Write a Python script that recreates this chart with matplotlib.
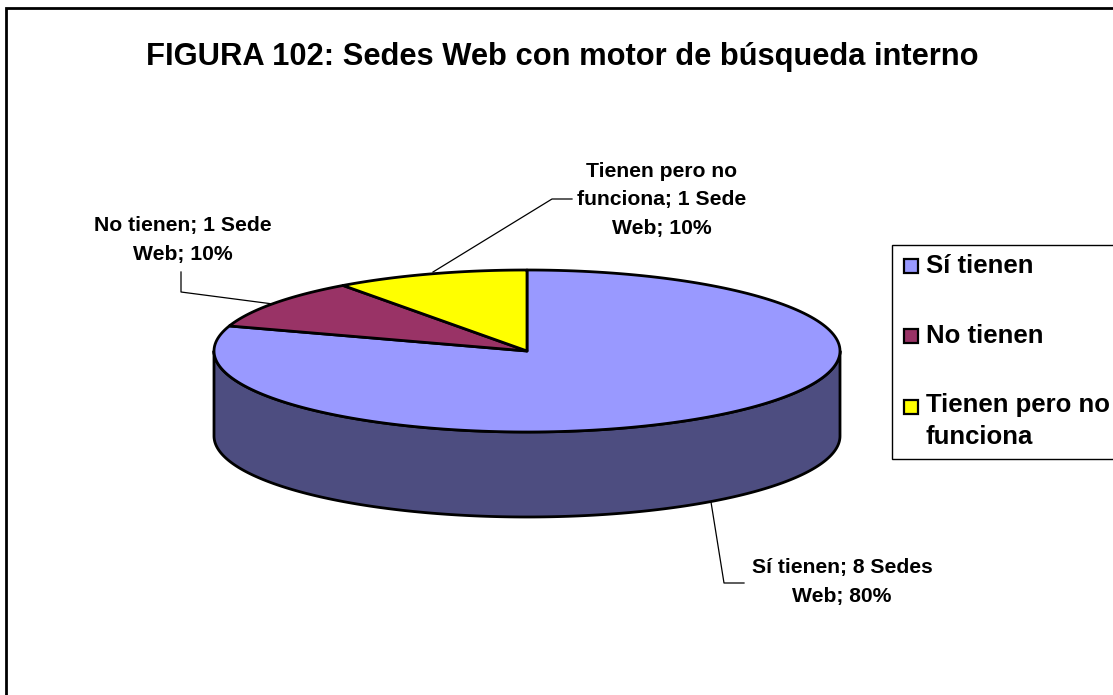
import numpy as np
import matplotlib
matplotlib.use("Agg")
import matplotlib.pyplot as plt
from matplotlib.patches import Polygon, Rectangle

# Data
categories = ["Sí tienen", "No tienen", "Tienen pero no\nfunciona"]
sedes = [8, 1, 1]
colors = ["#9999FF", "#993366", "#FFFF00"]
side_color = "#4D4D80"
title = "FIGURA 102: Sedes Web con motor de búsqueda interno"
labels = ["Sí tienen; 8 Sedes\nWeb; 80%", "No tienen; 1 Sede\nWeb; 10%", "Tienen pero no\nfunciona; 1 Sede\nWeb; 10%"]

plt.rcParams["font.family"] = ["Liberation Sans", "DejaVu Sans"]

fig = plt.figure(figsize=(11.13, 6.95), dpi=100)
ax = fig.add_axes([0, 0, 1, 1])
ax.set_xlim(0, 1113)
ax.set_ylim(695, 0)
ax.axis("off")

# chart frame, right and bottom edges fall outside the image
ax.add_patch(Rectangle((6, 8), 1200, 800, fc="white", ec="black", lw=2))

ax.text(562, 57, title, ha="center", va="center", fontsize=22.2, fontweight="bold")

cx, cy, rx, ry, depth = 527, 351, 313, 81, 85


def arc(a, b, dy=0):
    # angles are clockwise from 12 o'clock, in degrees
    t = np.radians(np.linspace(a, b, 200))
    return np.column_stack([cx + rx * np.sin(t), cy - ry * np.cos(t) + dy])


# side wall
side = np.vstack([arc(90, 270), arc(270, 90, depth)])
ax.add_patch(Polygon(side, closed=True, fc=side_color, ec="black", lw=2, joinstyle="round"))

# top slices
shares = np.array(sedes) / sum(sedes) * 360
start = 0
for val, col in zip(shares, colors):
    pts = np.vstack([[cx, cy], arc(start, start + val)])
    ax.add_patch(Polygon(pts, closed=True, fc=col, ec="black", lw=2, joinstyle="round"))
    start += val

# data labels and leader lines
label_pos = [(842, 582), (183, 240), (662, 200)]
leaders = [
    [(711, 502), (724, 583), (744, 583)],
    [(181, 272), (181, 292), (273, 304)],
    [(433, 272), (552, 199), (572, 199)],
]
for txt, pos, line in zip(labels, label_pos, leaders):
    ax.text(pos[0], pos[1], txt, ha="center", va="center", fontsize=15.2,
            fontweight="bold", linespacing=1.65)
    xs, ys = zip(*line)
    ax.plot(xs, ys, color="black", lw=0.9)

# legend
ax.add_patch(Rectangle((892, 245), 400, 214, fc="white", ec="black", lw=1))
square_y = [266, 335.5, 407]
text_y = [266, 336, 421]
for name, col, sy, ty in zip(categories, colors, square_y, text_y):
    ax.add_patch(Rectangle((903.5, sy - 7), 14, 14, fc=col, ec="black", lw=1.6))
    ax.text(926, ty, name, ha="left", va="center", fontsize=18.5, fontweight="bold", linespacing=1.4)

fig.savefig("out.png", dpi=100)
